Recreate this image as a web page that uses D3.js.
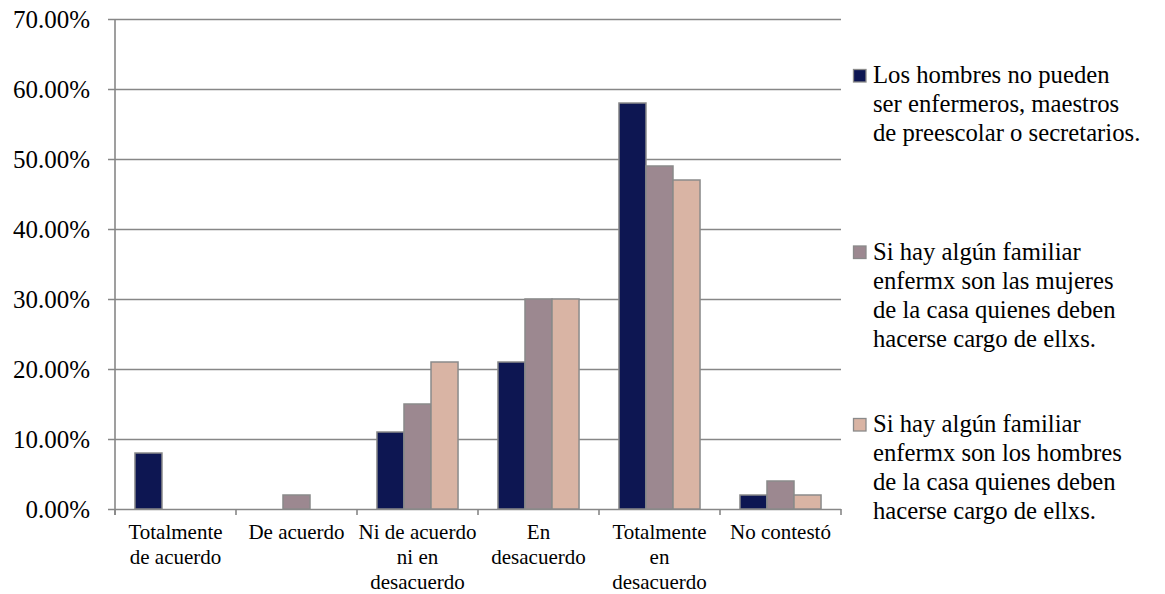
<!DOCTYPE html>
<html>
<head>
<meta charset="utf-8">
<script src="https://cdn.jsdelivr.net/npm/d3@7"></script>
<style>
  html, body { margin: 0; padding: 0; background: #fff; }
  svg { display: block; font-family: "Liberation Serif", "Times New Roman", serif; }
</style>
</head>
<body>
<svg id="chart" width="1165" height="594"></svg>
<script>
// Response categories (x axis), each label split into lines
const categories = [
  ["Totalmente", "de acuerdo"],
  ["De acuerdo"],
  ["Ni de acuerdo", "ni en", "desacuerdo"],
  ["En", "desacuerdo"],
  ["Totalmente", "en", "desacuerdo"],
  ["No contestó"]
];

// Statement text for each series (legend), split into lines
const seriesNames = [
  ["Los hombres no pueden", "ser enfermeros, maestros", "de preescolar o secretarios."],
  ["Si hay algún familiar", "enfermx son las mujeres", "de la casa quienes deben", "hacerse cargo de ellxs."],
  ["Si hay algún familiar", "enfermx son los hombres", "de la casa quienes deben", "hacerse cargo de ellxs."]
];

// Percentages per category, one array per statement
const hombresNoPueden = [0.08, 0.00, 0.11, 0.21, 0.58, 0.02];
const mujeresCuidan   = [0.00, 0.02, 0.15, 0.30, 0.49, 0.04];
const hombresCuidan   = [0.00, 0.00, 0.21, 0.30, 0.47, 0.02];
const seriesValues = [hombresNoPueden, mujeresCuidan, hombresCuidan];

const yTicks = [0, 0.1, 0.2, 0.3, 0.4, 0.5, 0.6, 0.7];
const colors = ["#0d1652", "#9c8890", "#d9b4a4"];

const svg = d3.select("#chart");
const plot = { left: 115, right: 841, top: 19, bottom: 509 };
const gridColor = "#878787";

const y = d3.scaleLinear().domain([0, 0.7]).range([plot.bottom, plot.top]);
const x0 = d3.scaleBand().domain(d3.range(categories.length))
  .range([plot.left, plot.right]).paddingInner(0).paddingOuter(0);
const bw = x0.bandwidth();
const x1 = d3.scaleBand().domain(d3.range(seriesValues.length))
  .range([bw * 0.165, bw * 0.835]).padding(0);

// Horizontal gridlines with left tick marks and percentage labels
const yAxis = d3.axisLeft(y).tickValues(yTicks)
  .tickSize(-(plot.right - plot.left))
  .tickFormat(d3.format(".2%"));
const gy = svg.append("g").attr("transform", `translate(${plot.left},0)`).call(yAxis);
gy.select(".domain").remove();
gy.selectAll(".tick line").attr("x1", -7).attr("stroke", gridColor).attr("stroke-width", 1.6);
gy.selectAll(".tick text")
  .attr("x", -25).attr("dy", "0.34em")
  .attr("fill", "#000").style("font-size", "25px")
  .style("font-family", "'Liberation Serif', serif");

// Vertical axis line
svg.append("line")
  .attr("x1", plot.left).attr("x2", plot.left)
  .attr("y1", plot.top).attr("y2", plot.bottom + 6)
  .attr("stroke", gridColor).attr("stroke-width", 1.6);

// Category tick marks below the baseline
const boundaries = d3.range(categories.length + 1).map(i => i < categories.length ? x0(i) : plot.right);
svg.append("g").selectAll("line").data(boundaries).join("line")
  .attr("x1", d => d).attr("x2", d => d)
  .attr("y1", plot.bottom).attr("y2", plot.bottom + 6)
  .attr("stroke", gridColor).attr("stroke-width", 1.6);

// Grouped bars
const groups = svg.append("g").selectAll("g").data(categories).join("g")
  .attr("transform", (d, i) => `translate(${x0(i)},0)`);
groups.selectAll("rect")
  .data((d, i) => seriesValues.map((vals, s) => ({ s, v: vals[i] })))
  .join("rect")
  .filter(d => d.v > 0)
  .attr("x", d => x1(d.s))
  .attr("width", x1.bandwidth())
  .attr("y", d => y(d.v))
  .attr("height", d => y(0) - y(d.v))
  .attr("fill", d => colors[d.s])
  .attr("stroke", "#8a8a8a").attr("stroke-width", 1.5);

// Category labels
const xl = svg.append("g").selectAll("text").data(categories).join("text")
  .attr("text-anchor", "middle")
  .attr("x", (d, i) => x0(i) + bw / 2)
  .attr("y", 539)
  .style("font-size", "21px").attr("fill", "#000");
xl.selectAll("tspan").data(d => d).join("tspan")
  .attr("x", function () { return d3.select(this.parentNode).attr("x"); })
  .attr("dy", (d, i) => i === 0 ? 0 : 25)
  .text(d => d);

// Legend
const legendStart = [83, 259.5, 432];
const lg = svg.append("g").selectAll("g").data(seriesNames).join("g")
  .attr("transform", (d, i) => `translate(853,${legendStart[i]})`);
lg.append("rect")
  .attr("x", 0.5).attr("y", -13.5).attr("width", 12.5).attr("height", 12.5)
  .attr("fill", (d, i) => colors[i]).attr("stroke", "#8a8a8a").attr("stroke-width", 1.3);
lg.append("text")
  .attr("x", 20).attr("y", 0)
  .style("font-size", "24.7px").attr("fill", "#000")
  .selectAll("tspan").data(d => d).join("tspan")
  .attr("x", 20).attr("dy", (d, i) => i === 0 ? 0 : 29)
  .text(d => d);
</script>
</body>
</html>
